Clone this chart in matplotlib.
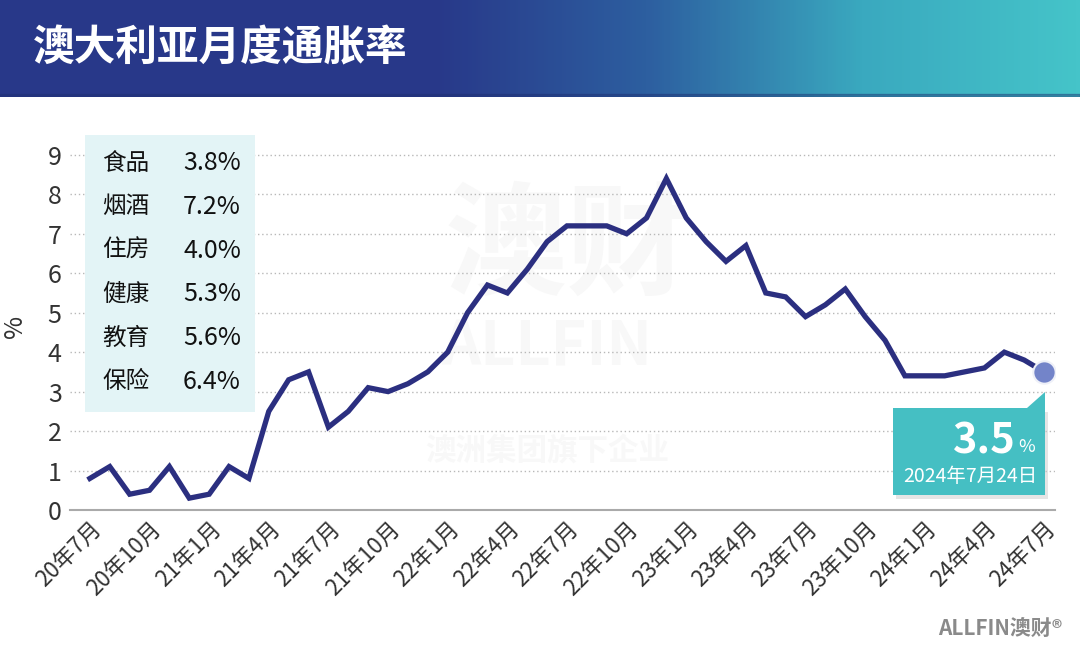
import numpy as np
import matplotlib
matplotlib.use('Agg')
import matplotlib.pyplot as plt
from matplotlib.patches import Rectangle, Polygon
from matplotlib.colors import LinearSegmentedColormap

plt.rcParams['font.family'] = ['Noto Sans CJK SC', 'DejaVu Sans']

# Monthly CPI, 20年7月 .. 24年7月
months = []
for k in range(49):
    y = 20 + (6 + k) // 12
    m = (6 + k) % 12 + 1
    months.append(f'{y}年{m}月')
cpi = [0.8, 1.1, 0.4, 0.5, 1.1, 0.3, 0.4, 1.1, 0.8, 2.5,
       3.3, 3.5, 2.1, 2.5, 3.1, 3.0, 3.2, 3.5, 4.0, 5.0,
       5.7, 5.5, 6.1, 6.8, 7.2, 7.2, 7.2, 7.0, 7.4, 8.4,
       7.4, 6.8, 6.3, 6.7, 5.5, 5.4, 4.9, 5.2, 5.6, 4.9,
       4.3, 3.4, 3.4, 3.4, 3.5, 3.6, 4.0, 3.8, 3.5]

cat_names = ['食品', '烟酒', '住房', '健康', '教育', '保险']
cat_values = ['3.8%', '7.2%', '4.0%', '5.3%', '5.6%', '6.4%']

title = '澳大利亚月度通胀率'
latest_value = '3.5'
latest_date = '2024年7月24日'

W, H = 1080, 657
fig = plt.figure(figsize=(W / 100, H / 100), dpi=100)
fig.patch.set_facecolor('white')

# --- header band with gradient ---
hax = fig.add_axes([0, 1 - 97 / H, 1, 97 / H])
grad = np.linspace(0, 1, 540)
grad = np.clip((grad - 0.40) / 0.60, 0, 1)
cmap = LinearSegmentedColormap.from_list('hdr', ['#283889', '#2d5fa0', '#3aa9bf', '#45c4c9'])
hax.imshow(grad[np.newaxis, :], aspect='auto', cmap=cmap, extent=[0, 1, 0, 1])
hax.axhspan(0, 0.03, color='#1f2f70', alpha=0.4)
hax.set_xlim(0, 1)
hax.set_ylim(0, 1)
hax.axis('off')
hax.text(33 / W, 0.50, title, color='white', fontsize=30, fontweight='heavy',
         ha='left', va='center')

# --- main chart ---
x = np.arange(len(cpi))
ax = fig.add_axes([70 / W, (H - 510) / H, (1055 - 70) / W, (510 - 143) / H])
ax.set_xlim(-1.0, 48.55)
ax.set_ylim(0, 9.3)

# very faint watermark
ax.text(24, 6.6, '澳财', fontsize=88, fontweight='heavy', color='#f8f8f8',
        ha='center', va='center', zorder=0)
ax.text(23, 4.1, 'ALLFIN', fontsize=44, fontweight='bold', color='#f8f8f8',
        ha='center', va='center', zorder=0)
ax.text(23, 1.5, '澳洲集团旗下企业', fontsize=22, fontweight='bold', color='#f8f8f8',
        ha='center', va='center', zorder=0)

for yv in range(1, 10):
    ax.axhline(yv, color='#b8b8b8', linestyle=(0, (1, 2)), linewidth=1.0, zorder=1)

ax.plot(x, cpi, color='#2b2f80', linewidth=3.8, solid_joinstyle='miter', zorder=3)
ax.scatter([x[-1]], [cpi[-1]], s=260, color='#7384c9', edgecolor='#eef0f8',
           linewidth=1.5, zorder=4)

for sp in ['top', 'right', 'left']:
    ax.spines[sp].set_visible(False)
ax.spines['bottom'].set_color('#aaaaaa')
ax.spines['bottom'].set_linewidth(1.5)

ax.set_yticks(range(0, 10))
ax.set_yticklabels([str(v) for v in range(0, 10)], fontweight='light')
ax.tick_params(axis='y', length=0, labelsize=18, labelcolor='#333333', pad=6)
ax.set_xticks(x[::3])
ax.set_xticklabels(months[::3], rotation=45, ha='right', rotation_mode='anchor',
                   fontsize=16, color='#333333', fontweight='light')
ax.tick_params(axis='x', length=0, pad=5)
ax.set_ylabel('%', fontsize=18, color='#333333', labelpad=14, fontweight='light')

# inset box with category rates
box = Rectangle((85 / W, (H - 412) / H), 170 / W, 277 / H, transform=fig.transFigure,
                facecolor='#e3f4f6', edgecolor='none', zorder=5)
fig.patches.append(box)
for i, (n, v) in enumerate(zip(cat_names, cat_values)):
    yy = (H - (163 + i * 43.8)) / H
    fig.text(102 / W, yy, n, fontsize=17, color='#111111', ha='left', va='center', zorder=6)
    fig.text(241 / W, yy, v, fontsize=18, color='#111111', ha='right', va='center',
             fontweight='light', zorder=6)

# callout
bx0, by0, bx1, by1 = 893, 408, 1045, 495
shadow = Rectangle(((bx0 + 3) / W, (H - by1 - 4) / H), (bx1 - bx0) / W, (by1 - by0) / H,
                   transform=fig.transFigure, facecolor='#cccccc', edgecolor='none',
                   alpha=0.5, zorder=5)
fig.patches.append(shadow)
callout = Rectangle((bx0 / W, (H - by1) / H), (bx1 - bx0) / W, (by1 - by0) / H,
                    transform=fig.transFigure, facecolor='#45bfc3', edgecolor='none', zorder=6)
fig.patches.append(callout)
tri = Polygon([((bx1 - 18) / W, (H - by0) / H), (bx1 / W, (H - by0) / H),
               (bx1 / W, (H - by0 + 16) / H)],
              closed=True, transform=fig.transFigure, facecolor='#45bfc3',
              edgecolor='none', zorder=6)
fig.patches.append(tri)
fig.text(1016 / W, (H - 441) / H, latest_value, fontsize=30, fontweight='bold',
         color='white', ha='right', va='center', zorder=7)
fig.text(1018 / W, (H - 447) / H, '%', fontsize=13, color='white',
         ha='left', va='center', zorder=7)
fig.text(1037 / W, (H - 477) / H, latest_date, fontsize=14, color='white',
         ha='right', va='center', zorder=7)

# footer logo
fig.text(1062 / W, (H - 628) / H, 'ALLFIN澳财®', fontsize=15, fontweight='bold',
         color='#8a8a8a', ha='right', va='center')

fig.savefig('out.png', dpi=100)
